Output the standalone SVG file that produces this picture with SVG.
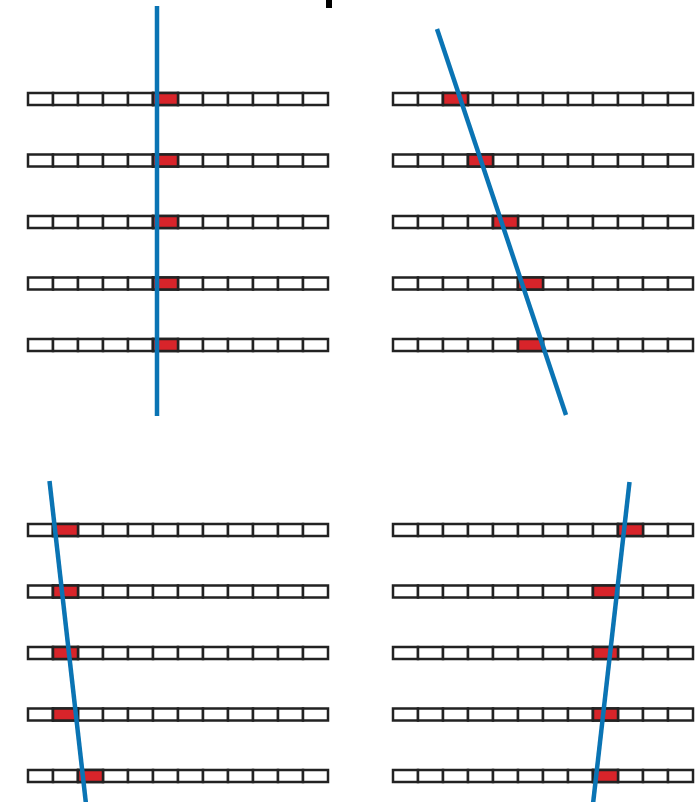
<svg xmlns="http://www.w3.org/2000/svg" xmlns:xlink="http://www.w3.org/1999/xlink" width="695" height="802" viewBox="0 0 695 802">
<style>
.c{fill:#fff;stroke:#222;stroke-width:2.5}
.r{fill:#d8242a;stroke:#222;stroke-width:2.5}
.ln{stroke:#0a74b4;stroke-width:4.5;fill:none}
</style>
<defs>
<g id="strip">
<rect class="c" x="0" y="0" width="25" height="12"/><rect class="c" x="25" y="0" width="25" height="12"/><rect class="c" x="50" y="0" width="25" height="12"/><rect class="c" x="75" y="0" width="25" height="12"/><rect class="c" x="100" y="0" width="25" height="12"/><rect class="c" x="125" y="0" width="25" height="12"/><rect class="c" x="150" y="0" width="25" height="12"/><rect class="c" x="175" y="0" width="25" height="12"/><rect class="c" x="200" y="0" width="25" height="12"/><rect class="c" x="225" y="0" width="25" height="12"/><rect class="c" x="250" y="0" width="25" height="12"/><rect class="c" x="275" y="0" width="25" height="12"/>
</g>
</defs>
<rect x="0" y="0" width="695" height="802" fill="#fff"/>
<rect x="326" y="0" width="6" height="8" fill="#000"/>
<g id="panel-tl">
<use xlink:href="#strip" x="28" y="93"/><rect class="r" x="153" y="93" width="25" height="12"/>
<use xlink:href="#strip" x="28" y="154.5"/><rect class="r" x="153" y="154.5" width="25" height="12"/>
<use xlink:href="#strip" x="28" y="216"/><rect class="r" x="153" y="216" width="25" height="12"/>
<use xlink:href="#strip" x="28" y="277.5"/><rect class="r" x="153" y="277.5" width="25" height="12"/>
<use xlink:href="#strip" x="28" y="339"/><rect class="r" x="153" y="339" width="25" height="12"/>
</g>
<g id="panel-tr">
<use xlink:href="#strip" x="393" y="93"/><rect class="r" x="443" y="93" width="25" height="12"/>
<use xlink:href="#strip" x="393" y="154.5"/><rect class="r" x="468" y="154.5" width="25" height="12"/>
<use xlink:href="#strip" x="393" y="216"/><rect class="r" x="493" y="216" width="25" height="12"/>
<use xlink:href="#strip" x="393" y="277.5"/><rect class="r" x="518" y="277.5" width="25" height="12"/>
<use xlink:href="#strip" x="393" y="339"/><rect class="r" x="518" y="339" width="25" height="12"/>
</g>
<g id="panel-bl">
<use xlink:href="#strip" x="28" y="524"/><rect class="r" x="53" y="524" width="25" height="12"/>
<use xlink:href="#strip" x="28" y="585.5"/><rect class="r" x="53" y="585.5" width="25" height="12"/>
<use xlink:href="#strip" x="28" y="647"/><rect class="r" x="53" y="647" width="25" height="12"/>
<use xlink:href="#strip" x="28" y="708.5"/><rect class="r" x="53" y="708.5" width="25" height="12"/>
<use xlink:href="#strip" x="28" y="770"/><rect class="r" x="78" y="770" width="25" height="12"/>
</g>
<g id="panel-br">
<use xlink:href="#strip" x="393" y="524"/><rect class="r" x="618" y="524" width="25" height="12"/>
<use xlink:href="#strip" x="393" y="585.5"/><rect class="r" x="593" y="585.5" width="25" height="12"/>
<use xlink:href="#strip" x="393" y="647"/><rect class="r" x="593" y="647" width="25" height="12"/>
<use xlink:href="#strip" x="393" y="708.5"/><rect class="r" x="593" y="708.5" width="25" height="12"/>
<use xlink:href="#strip" x="393" y="770"/><rect class="r" x="593" y="770" width="25" height="12"/>
</g>
<g id="connectors">
<line class="ln" x1="157" y1="6" x2="157" y2="416"/>
<line class="ln" x1="437" y1="29" x2="566" y2="415"/>
<line class="ln" x1="49.5" y1="481" x2="86" y2="804"/>
<line class="ln" x1="629.5" y1="482" x2="593" y2="804"/>
</g>
</svg>
